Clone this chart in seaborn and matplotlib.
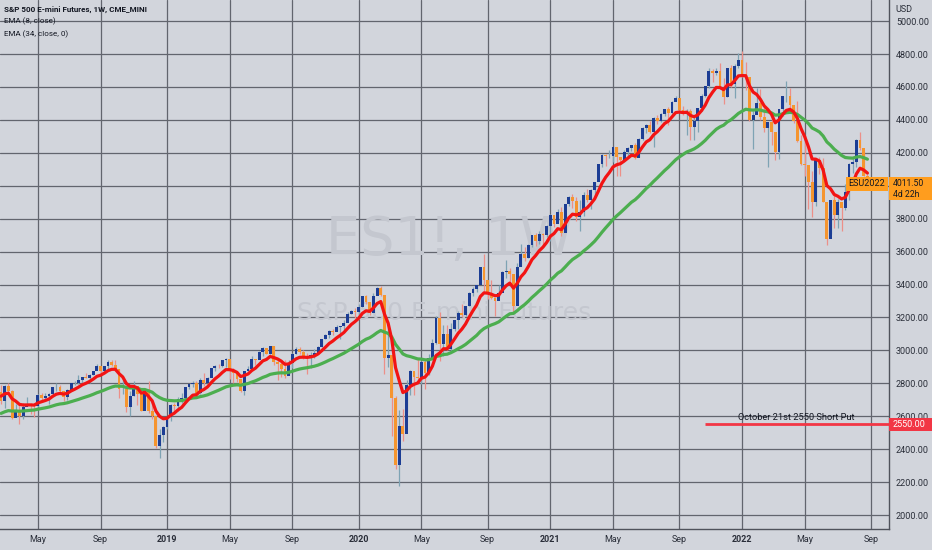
import pandas as pd
import matplotlib
matplotlib.use("Agg")
import matplotlib.pyplot as plt
import matplotlib.dates as mdates
from matplotlib.patches import Rectangle
from matplotlib.ticker import FuncFormatter
import seaborn as sns

# weekly closes Jan 2017 - Feb 2018, only used to warm up the EMAs (off screen)
warmup_close = [2277, 2274, 2271, 2295, 2297, 2316, 2351, 2367, 2383, 2373,
                2378, 2344, 2363, 2355, 2329, 2349, 2384, 2399, 2391, 2382,
                2416, 2439, 2432, 2433, 2438, 2423, 2425, 2459, 2473, 2472,
                2477, 2441, 2426, 2443, 2477, 2461, 2500, 2502, 2519, 2549,
                2553, 2575, 2581, 2588, 2582, 2579, 2602, 2642, 2652, 2675,
                2683, 2674, 2743, 2786, 2810, 2873, 2762, 2620, 2732, 2747]

# weekly bars, first bar = week of 2018-02-26
close_2018 = [2691, 2786, 2752, 2588, 2640, 2604, 2656, 2670, 2669, 2663,
              2728, 2713, 2721, 2735, 2779, 2780, 2755, 2718, 2760, 2801,
              2802, 2819, 2840, 2833, 2850, 2875, 2902, 2872, 2904, 2930,
              2914, 2886, 2767, 2768, 2658, 2723, 2781, 2736, 2633, 2760,
              2633, 2600, 2417, 2486, 2532]
high_2018 = [2789, 2787, 2802, 2761, 2675, 2672, 2680, 2718, 2683, 2683,
             2732, 2742, 2742, 2739, 2779, 2801, 2790, 2753, 2764, 2804,
             2816, 2848, 2841, 2863, 2855, 2876, 2916, 2896, 2908, 2941,
             2940, 2940, 2889, 2817, 2778, 2756, 2815, 2775, 2694, 2766,
             2815, 2685, 2601, 2520, 2538]
low_2018 = [2675, 2647, 2741, 2585, 2594, 2553, 2586, 2660, 2612, 2594,
            2655, 2701, 2707, 2676, 2735, 2756, 2741, 2691, 2698, 2770,
            2790, 2793, 2795, 2830, 2802, 2850, 2884, 2864, 2868, 2886,
            2903, 2874, 2710, 2736, 2628, 2603, 2722, 2670, 2631, 2649,
            2621, 2584, 2409, 2346, 2444]

close_2019 = [2596, 2671, 2665, 2707, 2708, 2776, 2793, 2804, 2743, 2822,
              2800, 2834, 2893, 2907, 2905, 2940, 2946, 2881, 2860, 2826,
              2752, 2873, 2887, 2950, 2942, 2990, 3014, 2977, 3026, 2932,
              2919, 2889, 2847, 2926, 2979, 3007, 2992, 2962, 2952, 2970,
              2986, 3023, 3067, 3093, 3120, 3110, 3141, 3146, 3169, 3221,
              3240, 3235]
high_2019 = [2604, 2675, 2681, 2716, 2738, 2776, 2798, 2813, 2816, 2830,
             2860, 2836, 2893, 2910, 2916, 2940, 2954, 2938, 2892, 2863,
             2823, 2876, 2906, 2964, 2950, 2995, 3018, 3017, 3028, 3027,
             2945, 2940, 2940, 2940, 2985, 3021, 3022, 3002, 2983, 2993,
             3008, 3027, 3067, 3097, 3121, 3127, 3154, 3150, 3183, 3231,
             3247, 3259]
low_2019 = [2524, 2570, 2612, 2631, 2681, 2704, 2768, 2775, 2722, 2734,
            2785, 2785, 2848, 2873, 2894, 2898, 2900, 2825, 2801, 2805,
            2750, 2728, 2873, 2883, 2912, 2952, 2967, 2975, 2975, 2914,
            2822, 2840, 2834, 2853, 2891, 2979, 2978, 2945, 2856, 2892,
            2952, 2982, 3023, 3066, 3078, 3092, 3115, 3070, 3123, 3185,
            3221, 3195]

close_2020 = [3265, 3330, 3295, 3226, 3328, 3380, 3338, 2954, 2972, 2711,
              2305, 2541, 2489, 2790, 2875, 2837, 2831, 2930, 2864, 2955,
              3044, 3194, 3041, 3098, 3009, 3130, 3185, 3225, 3216, 3271,
              3351, 3373, 3397, 3508, 3427, 3341, 3319, 3298, 3348, 3477,
              3483, 3465, 3270, 3509, 3585, 3558, 3638, 3699, 3663, 3709,
              3703, 3756]
high_2020 = [3282, 3330, 3338, 3293, 3347, 3385, 3393, 3337, 3136, 2882,
             2720, 2637, 2641, 2818, 2880, 2867, 2954, 2934, 2945, 2980,
             3068, 3211, 3233, 3155, 3155, 3165, 3186, 3238, 3280, 3272,
             3352, 3387, 3399, 3509, 3588, 3425, 3429, 3320, 3397, 3485,
             3550, 3502, 3457, 3530, 3645, 3628, 3644, 3700, 3712, 3726,
             3712, 3760]
low_2020 = [3214, 3264, 3280, 3214, 3235, 3335, 3328, 2855, 2901, 2480,
            2280, 2174, 2447, 2628, 2728, 2727, 2798, 2797, 2766, 2853,
            2969, 3038, 2936, 2965, 3000, 2999, 3115, 3127, 3200, 3209,
            3268, 3330, 3354, 3403, 3349, 3310, 3313, 3209, 3323, 3361,
            3441, 3419, 3233, 3279, 3511, 3543, 3564, 3629, 3633, 3648,
            3636, 3689]

close_2021 = [3824, 3768, 3841, 3714, 3887, 3934, 3906, 3811, 3842, 3943,
              3913, 3975, 4020, 4129, 4185, 4180, 4181, 4233, 4174, 4156,
              4204, 4230, 4247, 4166, 4281, 4352, 4370, 4327, 4412, 4395,
              4437, 4468, 4442, 4509, 4535, 4459, 4433, 4455, 4357, 4391,
              4471, 4545, 4605, 4697, 4683, 4698, 4595, 4538, 4712, 4620,
              4726, 4766]
high_2021 = [3826, 3823, 3859, 3870, 3887, 3937, 3950, 3929, 3915, 3961,
             3983, 3978, 4021, 4130, 4191, 4195, 4218, 4237, 4236, 4175,
             4218, 4233, 4249, 4261, 4287, 4356, 4372, 4394, 4415, 4430,
             4440, 4468, 4481, 4513, 4545, 4530, 4486, 4465, 4466, 4429,
             4475, 4559, 4608, 4718, 4708, 4717, 4744, 4652, 4713, 4731,
             4740, 4808]
low_2021 = [3662, 3749, 3784, 3694, 3730, 3874, 3865, 3788, 3723, 3819,
            3901, 3857, 3939, 4035, 4114, 4119, 4170, 4146, 4057, 4062,
            4152, 4167, 4211, 4164, 4173, 4276, 4320, 4320, 4233, 4372,
            4384, 4422, 4367, 4438, 4513, 4454, 4427, 4306, 4278, 4278,
            4329, 4453, 4539, 4595, 4631, 4672, 4585, 4495, 4540, 4600,
            4531, 4717]

close_2022 = [4677, 4663, 4398, 4432, 4501, 4419, 4349, 4385, 4329, 4204,
              4463, 4543, 4546, 4488, 4393, 4272, 4132, 4123, 4024, 3901,
              4158, 4109, 3901, 3675, 3912, 3825, 3899, 3863, 3962, 4130,
              4145, 4280, 4228, 4058, 4011.5]
high_2022 = [4818, 4749, 4632, 4453, 4595, 4590, 4490, 4386, 4416, 4300,
             4465, 4546, 4637, 4593, 4471, 4513, 4308, 4303, 4082, 4090,
             4159, 4177, 4168, 3838, 3913, 3946, 3918, 3875, 4013, 4140,
             4167, 4281, 4325, 4203, 4070]
low_2022 = [4662, 4582, 4395, 4222, 4451, 4401, 4327, 4115, 4245, 4157,
            4161, 4424, 4506, 4450, 4381, 4267, 4124, 4062, 3859, 3811,
            3875, 4074, 3900, 3637, 3705, 3741, 3743, 3722, 3853, 3911,
            4079, 4115, 4218, 4057, 4000]

put_strike = 2550
put_label = "October 21st 2550 Short Put"
last_price = 4011.5
price_ticks = list(range(2000, 5001, 200))

# colours
bg = "#d2d5dc"
grid_c = "#62656e"
up_c, down_c = "#1c3d94", "#f5952f"
wick_up, wick_down = "#7ea3b4", "#ec8f88"

closes = close_2018 + close_2019 + close_2020 + close_2021 + close_2022
highs = high_2018 + high_2019 + high_2020 + high_2021 + high_2022
lows = low_2018 + low_2019 + low_2020 + low_2021 + low_2022

dates = pd.date_range("2018-02-26", periods=len(closes), freq="W-MON")
df = pd.DataFrame({"date": dates, "close": closes, "high": highs, "low": lows})
df["open"] = [warmup_close[-1]] + closes[:-1]

all_close = pd.Series(warmup_close + closes)
df["ema8"] = all_close.ewm(span=8, adjust=False).mean().values[len(warmup_close):]
df["ema34"] = all_close.ewm(span=34, adjust=False).mean().values[len(warmup_close):]

sns.set_theme(style="white")
plt.rcParams["font.family"] = ["Roboto", "DejaVu Sans"]

fig = plt.figure(figsize=(9.32, 5.5), dpi=100, facecolor=bg)
ax = fig.add_axes([0, 21 / 550, 889 / 932, 529 / 550], facecolor=bg)

up = df["close"] >= df["open"]
for mask, body_c, wick_c in [(up, up_c, wick_up), (~up, down_c, wick_down)]:
    d = df[mask]
    ax.vlines(d["date"], d["low"], d["high"], color=wick_c, lw=0.9, zorder=2)
    ax.bar(d["date"], d["close"] - d["open"], bottom=d["open"], width=5.4,
           color=body_c, linewidth=0, zorder=3)

sns.lineplot(x=df["date"], y=df["ema34"], color="#4cae4f", lw=2.3, ax=ax, zorder=4)
sns.lineplot(x=df["date"], y=df["ema8"], color="#f21414", lw=2.3, ax=ax, zorder=5)
ax.set_xlabel("")
ax.set_ylabel("")

# short put line
ax.hlines(put_strike, pd.Timestamp("2021-10-25"), pd.Timestamp("2022-10-09"),
          color="#f23645", lw=2.0, zorder=5)
ax.text(pd.Timestamp("2022-04-15"), put_strike + 12, put_label, ha="center",
        va="bottom", fontsize=6.7, color="#131722", zorder=6)

ax.set_xlim(pd.Timestamp("2018-02-24"), pd.Timestamp("2022-10-09"))
ax.set_ylim(1915, 5128)

# month ticks at the first weekly bar of Jan / May / Sep
full_weeks = pd.date_range("2018-02-26", "2022-10-03", freq="W-MON")
firsts = full_weeks.to_series().groupby([full_weeks.year, full_weeks.month]).first()
tick_dates = [d for d in firsts if d.month in (1, 5, 9)]
tick_labels = [str(d.year) if d.month == 1 else d.strftime("%b") for d in tick_dates]
ax.set_xticks(mdates.date2num(tick_dates))
ax.set_xticklabels(tick_labels)
for lab, d in zip(ax.get_xticklabels(), tick_dates):
    if d.month == 1:
        lab.set_fontweight("bold")


def price_fmt(v, pos):
    # the label under the last-price box is hidden, as on the chart
    if abs(v - last_price) < 60:
        return ""
    return f"{v:.2f}"


ax.yaxis.tick_right()
ax.set_yticks(price_ticks)
ax.yaxis.set_major_formatter(FuncFormatter(price_fmt))
ax.tick_params(axis="both", length=0, labelsize=6.5, colors="#2a2e39")
ax.tick_params(axis="y", pad=5)
ax.tick_params(axis="x", pad=4)
ax.grid(True, color=grid_c, lw=0.9)
ax.set_axisbelow(True)
for s in ["left", "top"]:
    ax.spines[s].set_visible(False)
for s in ["right", "bottom"]:
    ax.spines[s].set_color("#50535c")
    ax.spines[s].set_linewidth(1.0)

# watermark
ax.text(0.506, 0.546, "ES1!, 1W", transform=ax.transAxes, ha="center", va="center",
        fontsize=39, color="#c4c7cf", family="DejaVu Sans", zorder=1)
ax.text(0.4995, 0.408, "S&P 500 E-mini Futures", transform=ax.transAxes, ha="center",
        va="center", fontsize=18, color="#c4c7cf", family="DejaVu Sans", zorder=1)

# legend texts
ax.text(4 / 889, 1 - 9 / 529, "S&P 500 E-mini Futures, 1W, CME_MINI", transform=ax.transAxes,
        ha="left", va="center", fontsize=5.8, fontweight="bold", color="#131722")
ax.text(4 / 889, 1 - 21 / 529, "EMA (8, close)", transform=ax.transAxes,
        ha="left", va="center", fontsize=5.8, color="#131722")
ax.text(4 / 889, 1 - 34 / 529, "EMA (34, close, 0)", transform=ax.transAxes,
        ha="left", va="center", fontsize=5.8, color="#131722")
ax.text(1 + 6 / 889, 1 - 10 / 529, "USD", transform=ax.transAxes,
        ha="left", va="center", fontsize=6.5, color="#2a2e39", clip_on=False)

# price labels on the axis
yt = ax.get_yaxis_transform()
ax.add_patch(Rectangle((1.0, last_price - 100), 43 / 889, 143, transform=yt,
                       facecolor="#ff9d1e", edgecolor="none", clip_on=False, zorder=7))
ax.text(1 + 4 / 889, last_price + 4, f"{last_price:.2f}", transform=yt, ha="left",
        va="center", fontsize=6.2, color="#131722", clip_on=False, zorder=8)
ax.text(1 + 4 / 889, last_price - 66, "4d 22h", transform=yt, ha="left", va="center",
        fontsize=6.2, color="#131722", clip_on=False, zorder=8)
ax.add_patch(Rectangle((846 / 889, last_price - 42), 42 / 889, 84, transform=yt,
                       facecolor="#ff9d1e", edgecolor="none", clip_on=False, zorder=7))
ax.text(867 / 889, last_price, "ESU2022", transform=yt, ha="center", va="center",
        fontsize=6.5, color="#131722", clip_on=False, zorder=8)
ax.add_patch(Rectangle((1.0, put_strike - 40), 43 / 889, 80, transform=yt,
                       facecolor="#f23645", edgecolor="none", clip_on=False, zorder=7))
ax.text(1 + 4 / 889, put_strike, f"{put_strike:.2f}", transform=yt, ha="left", va="center",
        fontsize=6.5, color="white", clip_on=False, zorder=8)

fig.savefig("out.png", dpi=100, facecolor=bg)
